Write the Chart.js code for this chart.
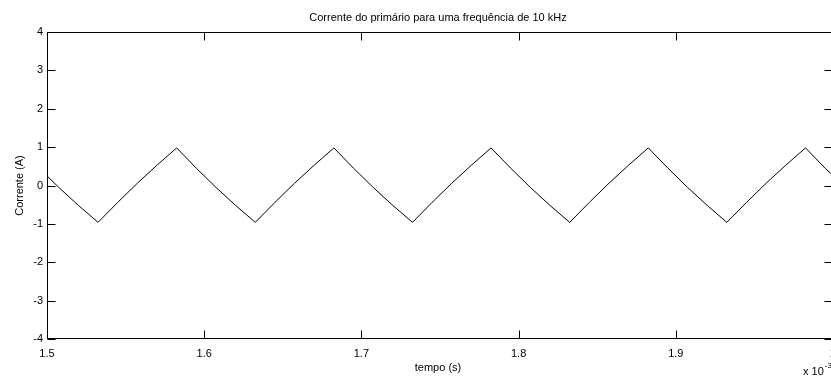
<!DOCTYPE html>
<html>
<head>
<meta charset="utf-8">
<title>Corrente do primário</title>
<script src="https://cdn.jsdelivr.net/npm/chart.js@4/dist/chart.umd.min.js"></script>
<style>
  html, body { margin: 0; padding: 0; background: #fff; overflow: hidden; }
  #wrap { width: 831px; height: 376px; overflow: hidden; position: relative; }
  canvas { display: block; }
</style>
</head>
<body>
<div id="wrap"><canvas id="plot" width="840" height="376"></canvas></div>
<script>
// ─── Data (time in ms, axis shown as x 10^-3 s) ──────────
const tempo = [
  1.5,    1.5075, 1.52,   1.5325,
  1.545,  1.5575, 1.57,   1.5825, 1.595,  1.6075, 1.62,   1.6325,
  1.645,  1.6575, 1.67,   1.6825, 1.695,  1.7075, 1.72,   1.7325,
  1.745,  1.7575, 1.77,   1.7825, 1.795,  1.8075, 1.82,   1.8325,
  1.845,  1.8575, 1.87,   1.8825, 1.895,  1.9075, 1.92,   1.9325,
  1.945,  1.9575, 1.97,   1.9825, 1.995,  2.0,
];
const corrente = [
   0.25, -0.05, -0.52, -0.96,
  -0.44,  0.06,  0.53,  0.98,  0.45, -0.05, -0.52, -0.96,
  -0.44,  0.06,  0.53,  0.98,  0.45, -0.05, -0.52, -0.96,
  -0.44,  0.06,  0.53,  0.98,  0.45, -0.05, -0.52, -0.96,
  -0.44,  0.06,  0.53,  0.98,  0.45, -0.05, -0.52, -0.96,
  -0.44,  0.06,  0.53,  0.98,  0.45,  0.26,
];

const xTicks      = [1.5, 1.6, 1.7, 1.8, 1.9, 2.0];
const xTickLabels = ['1.5', '1.6', '1.7', '1.8', '1.9', '2'];
const yTicks      = [-4, -3, -2, -1, 0, 1, 2, 3, 4];
const yTickLabels = ['-4', '-3', '-2', '-1', '0', '1', '2', '3', '4'];

const TITLE  = 'Corrente do primário para uma frequência de 10 kHz';
const XLABEL = 'tempo (s)';
const YLABEL = 'Corrente (A)';

const FONT = 'Liberation Sans, Arial, Helvetica, sans-serif';
const TICK_LEN = 8;

// ─── Box, inward ticks and labels drawn over the chart ────
const matlabFrame = {
  id: 'matlabFrame',
  afterDraw(chart) {
    const { ctx, chartArea: a, scales: { x, y } } = chart;
    const L = Math.round(a.left) + 0.5, R = Math.round(a.right) - 0.5;
    const T = Math.round(a.top) + 0.5,  B = Math.round(a.bottom) - 0.5;

    ctx.save();
    ctx.strokeStyle = '#000';
    ctx.lineWidth = 1;
    ctx.strokeRect(L, T, R - L, B - T);

    ctx.beginPath();
    x.ticks.forEach(t => {
      const px = Math.round(x.getPixelForValue(t.value)) + 0.5;
      ctx.moveTo(px, B); ctx.lineTo(px, B - TICK_LEN);
      ctx.moveTo(px, T); ctx.lineTo(px, T + TICK_LEN);
    });
    y.ticks.forEach(t => {
      const py = Math.round(y.getPixelForValue(t.value)) + 0.5;
      ctx.moveTo(L, py); ctx.lineTo(L + TICK_LEN, py);
      ctx.moveTo(R, py); ctx.lineTo(R - TICK_LEN, py);
    });
    ctx.stroke();

    const cx = (a.left + a.right) / 2;
    ctx.fillStyle = '#000';
    ctx.font = `11px ${FONT}`;
    ctx.textBaseline = 'alphabetic';
    ctx.textAlign = 'center';
    ctx.fillText(TITLE, cx - 2, 21);
    ctx.fillText(XLABEL, cx - 2, 371);

    ctx.save();
    ctx.translate(23, (a.top + a.bottom) / 2);
    ctx.rotate(-Math.PI / 2);
    ctx.fillText(YLABEL, 0, 0);
    ctx.restore();

    // exponent marker under the right end of the x axis
    ctx.textAlign = 'left';
    ctx.fillText('x 10', 803, 375);
    const w = ctx.measureText('x 10').width;
    ctx.font = `8px ${FONT}`;
    ctx.fillText('-3', 803 + w + 1, 368);
    ctx.restore();
  },
};

const tickFont = { family: FONT, size: 11 };

new Chart(document.getElementById('plot'), {
  type: 'line',
  data: {
    datasets: [{
      data: tempo.map((t, i) => ({ x: t, y: corrente[i] })),
      borderColor: '#000',
      borderWidth: 1,
      pointRadius: 0,
      tension: 0,
      fill: false,
    }],
  },
  options: {
    responsive: false,
    animation: false,
    devicePixelRatio: 1,
    layout: { padding: { top: 32, right: 7, bottom: 0, left: 0 } },
    plugins: { legend: { display: false }, tooltip: { enabled: false } },
    scales: {
      x: {
        type: 'linear', min: 1.5, max: 2.0,
        afterBuildTicks: s => { s.ticks = xTicks.map(v => ({ value: v })); },
        afterFit: s => { s.height = 37; s.paddingLeft = 0; s.paddingRight = 0; },
        ticks: {
          color: '#000', font: tickFont, padding: 8, maxRotation: 0, autoSkip: false,
          callback: (v, i) => xTickLabels[i],
        },
        grid: { display: false, drawTicks: false },
        border: { display: false },
      },
      y: {
        type: 'linear', min: -4, max: 4,
        afterBuildTicks: s => { s.ticks = yTicks.map(v => ({ value: v })); },
        afterFit: s => { s.width = 47; s.paddingTop = 0; s.paddingBottom = 0; },
        ticks: {
          color: '#000', font: tickFont, padding: 4, autoSkip: false,
          callback: (v, i) => yTickLabels[i],
        },
        grid: { display: false, drawTicks: false },
        border: { display: false },
      },
    },
  },
  plugins: [matlabFrame],
});
</script>
</body>
</html>
